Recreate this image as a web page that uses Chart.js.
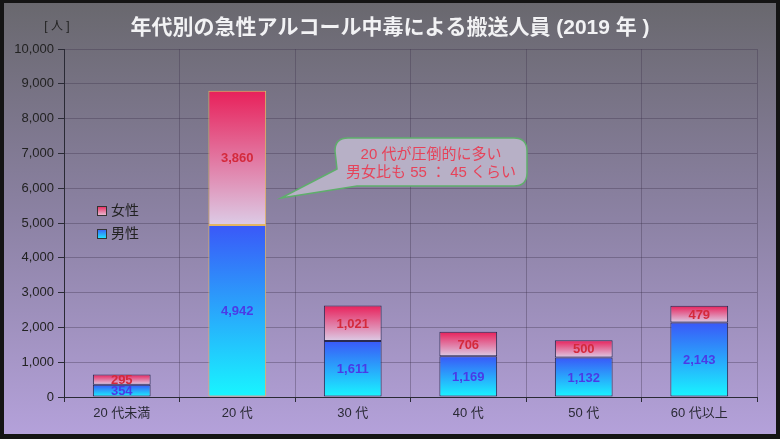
<!DOCTYPE html>
<html>
<head>
<meta charset="utf-8">
<script src="https://cdn.jsdelivr.net/npm/chart.js@4/dist/chart.umd.min.js"></script>
<style>
  html, body { margin: 0; padding: 0; background: #111; }
  #wrap { width: 780px; height: 439px; position: relative; }
</style>
</head>
<body>
<div id="wrap"><canvas id="ageChart"></canvas></div>
<script>
const ageGroups = ['20 代未満', '20 代', '30 代', '40 代', '50 代', '60 代以上'];
const maleCounts = [354, 4942, 1611, 1169, 1132, 2143];
const femaleCounts = [295, 3860, 1021, 706, 500, 479];
const yTicks = [0, 1000, 2000, 3000, 4000, 5000, 6000, 7000, 8000, 9000, 10000];

const FONT = '"Liberation Sans", "Noto Sans CJK JP", sans-serif';

// vertical gradient for one bar segment
function segGradient(c, top, bottom) {
    const chart = c.chart;
    if (!chart.chartArea) return top;
    const y = chart.scales.y;
    const i = c.dataIndex;
    const base = c.datasetIndex === 0 ? 0 : maleCounts[i];
    const val = c.datasetIndex === 0 ? maleCounts[i] : femaleCounts[i];
    const y0 = y.getPixelForValue(base + val);
    const y1 = y.getPixelForValue(base);
    const g = chart.ctx.createLinearGradient(0, y0, 0, y1);
    g.addColorStop(0, top);
    g.addColorStop(1, bottom);
    return g;
}

const bgPlugin = {
    id: 'bg',
    beforeDraw(chart) {
        const ctx = chart.ctx;
        ctx.save();
        ctx.fillStyle = '#141414';
        ctx.fillRect(0, 0, chart.width, chart.height);
        const g = ctx.createLinearGradient(0, 3, 0, 434);
        g.addColorStop(0, '#69686e');
        g.addColorStop(0.5, '#8c82a4');
        g.addColorStop(1, '#b4a1da');
        ctx.fillStyle = g;
        ctx.fillRect(4, 3, 772, 431);
        ctx.restore();
    }
};

const extrasPlugin = {
    id: 'extras',
    afterDatasetsDraw(chart) {
        const ctx = chart.ctx;
        ctx.save();
        // value labels
        ctx.font = 'bold 13px ' + FONT;
        ctx.textAlign = 'center';
        ctx.textBaseline = 'middle';
        [0, 1].forEach(di => {
            const meta = chart.getDatasetMeta(di);
            const vals = di === 0 ? maleCounts : femaleCounts;
            meta.data.forEach((bar, i) => {
                ctx.fillStyle = di === 0 ? '#4b3be6' : '#d42a3c';
                ctx.fillText(vals[i].toLocaleString('en-US'), bar.x, (bar.y + bar.base) / 2 + 1);
            });
        });
        ctx.restore();
    },
    afterDraw(chart) {
        const ctx = chart.ctx;
        ctx.save();
        // title
        ctx.fillStyle = '#f2f2f4';
        ctx.font = 'bold 21px ' + FONT;
        ctx.textAlign = 'center';
        ctx.textBaseline = 'middle';
        ctx.fillText('年代別の急性アルコール中毒による搬送人員 (2019 年 )', 390, 28);
        // unit
        ctx.fillStyle = '#222';
        ctx.font = '12px ' + FONT;
        ctx.fillText('[ 人 ]', 57, 27);

        // legend
        const items = [
            ['女性', '#e8245a', '#e6c8dc', 206],
            ['男性', '#3a5af8', '#1ef0ff', 229]
        ];
        items.forEach(([label, c1, c2, y]) => {
            const g = ctx.createLinearGradient(0, y, 0, y + 10);
            g.addColorStop(0, c1);
            g.addColorStop(1, c2);
            ctx.fillStyle = g;
            ctx.fillRect(97, y, 10, 10);
            ctx.strokeStyle = '#333';
            ctx.lineWidth = 1;
            ctx.strokeRect(97.5, y + 0.5, 9, 9);
            ctx.fillStyle = '#222';
            ctx.font = '14px ' + FONT;
            ctx.textAlign = 'left';
            ctx.fillText(label, 111, y + 5);
        });

        // callout bubble
        const x0 = 335, y0 = 138, x1 = 527, y1 = 186, r = 13;
        ctx.beginPath();
        ctx.moveTo(x0 + r, y0);
        ctx.lineTo(x1 - r, y0);
        ctx.quadraticCurveTo(x1, y0, x1, y0 + r);
        ctx.lineTo(x1, y1 - r);
        ctx.quadraticCurveTo(x1, y1, x1 - r, y1);
        ctx.lineTo(x0 + 22, y1);
        ctx.lineTo(281, 198);
        ctx.lineTo(x0 + 2, y1 - 17);
        ctx.lineTo(x0, y0 + r);
        ctx.quadraticCurveTo(x0, y0, x0 + r, y0);
        ctx.closePath();
        ctx.fillStyle = '#b7b0c6';
        ctx.fill();
        ctx.strokeStyle = '#5fae6c';
        ctx.lineWidth = 1.5;
        ctx.stroke();
        ctx.fillStyle = '#e6435a';
        ctx.font = '15px ' + FONT;
        ctx.textAlign = 'center';
        ctx.fillText('20 代が圧倒的に多い', 431, 155);
        ctx.fillText('男女比も 55 ： 45 くらい', 431, 173);
        ctx.restore();
    }
};

new Chart(document.getElementById('ageChart'), {
    type: 'bar',
    data: {
        labels: ageGroups,
        datasets: [
            {
                label: '男性',
                data: maleCounts,
                backgroundColor: c => segGradient(c, '#3a58f8', '#18f6ff'),
                borderColor: c => c.dataIndex === 1 ? '#e3b562' : '#2a2a50',
                borderWidth: 1,
                borderSkipped: false,
                categoryPercentage: 1,
                barPercentage: 0.5
            },
            {
                label: '女性',
                data: femaleCounts,
                backgroundColor: c => segGradient(c, '#e8205a', '#dccbe6'),
                borderColor: c => c.dataIndex === 1 ? '#e3b562' : '#2a2a50',
                borderWidth: 1,
                borderSkipped: false,
                categoryPercentage: 1,
                barPercentage: 0.5
            }
        ]
    },
    options: {
        responsive: true,
        maintainAspectRatio: false,
        animation: false,
        layout: { padding: { top: 49, right: 23, left: 4, bottom: 0 } },
        plugins: {
            legend: { display: false },
            tooltip: { enabled: false }
        },
        scales: {
            x: {
                stacked: true,
                grid: {
                    color: 'rgba(60,50,75,0.35)',
                    tickColor: '#2a2a35',
                    tickLength: 5
                },
                border: { color: '#2a2a35' },
                ticks: { color: '#2a2a35', font: { family: FONT, size: 13 }, padding: 4 },
                afterFit(s) { s.height = 42; }
            },
            y: {
                stacked: true,
                min: 0,
                max: 10000,
                afterBuildTicks(s) { s.ticks = yTicks.map(v => ({ value: v })); },
                grid: {
                    color: 'rgba(60,50,75,0.35)',
                    tickColor: '#2a2a35',
                    tickLength: 6
                },
                border: { color: '#2a2a35' },
                ticks: {
                    color: '#222',
                    font: { family: FONT, size: 13 },
                    padding: 4,
                    callback: v => v.toLocaleString('en-US')
                },
                afterFit(s) { s.width = 60; }
            }
        }
    },
    plugins: [bgPlugin, extrasPlugin]
});
</script>
</body>
</html>
